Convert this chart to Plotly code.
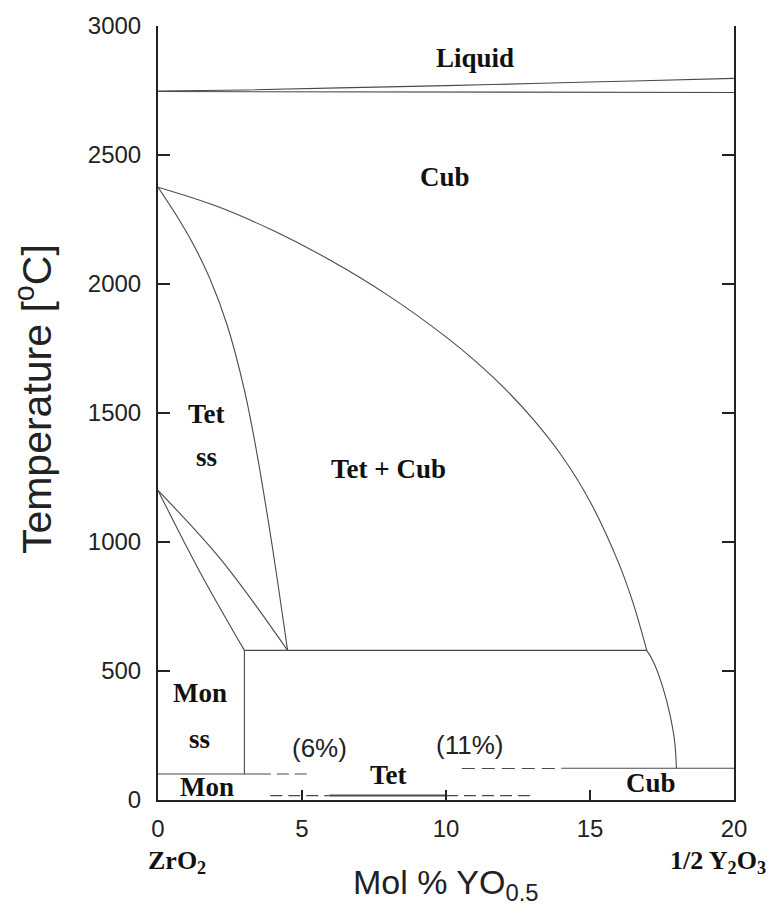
import plotly.graph_objects as go

# ---- data (Mol % YO0.5 , Temperature degC) ----
liq_upper_x = [0, 3, 6.3, 10, 13, 16.5, 20]
liq_upper_T = [2748, 2752, 2760, 2769, 2777, 2787, 2797]
liq_lower_x = [0, 20]
liq_lower_T = [2746, 2742]

cub_x = [0, 2, 4, 6, 8, 10, 11, 12, 13, 14, 15, 16, 16.5, 16.97]
cub_T = [2375, 2303, 2207, 2091, 1955, 1795, 1703, 1599, 1479, 1337, 1157, 917, 762, 580]

cub_low_x = [16.97, 17.2, 17.54, 17.78, 17.94, 18.0]
cub_low_T = [580, 536, 433, 329, 226, 123]

tet_x = [0, 0.6, 1.2, 1.8, 2.4, 3.0, 3.4, 3.8, 4.15, 4.5]
tet_T = [2375, 2273, 2159, 2021, 1841, 1589, 1365, 1101, 849, 580]

mt_upper_x = [0, 2.2, 4.5]
mt_upper_T = [1200, 930, 580]
mt_lower_x = [0, 1.45, 3.0]
mt_lower_T = [1200, 885, 580]

eutectoid_x = [3.0, 16.97]
eutectoid_T = [580, 580]
monss_x = [3.0, 3.0]
monss_T = [580, 101]

mon_solid_x = [0, 3.5]
mon_solid_T = [101, 101]
mon_dash_x = [3.5, 5.3]
mon_dash_T = [101, 101]

tc_dash_x = [10.55, 14.0]
tc_dash_T = [122, 122]
tc_solid_x = [14.0, 20]
tc_solid_T = [123, 123]

low_dash1_x = [3.9, 5.95]
low_dash1_T = [17, 17]
low_solid_x = [5.95, 10.0]
low_solid_T = [17, 17]
low_dash2_x = [10.0, 13.0]
low_dash2_T = [17, 17]

region_labels = ["Liquid", "Cub", "Tet", "ss", "Tet + Cub", "Mon", "ss", "Tet", "Mon", "Cub"]
region_x = [11.0, 9.97, 1.7, 1.7, 8.0, 1.45, 1.45, 8.02, 1.7, 17.12]
region_T = [2876, 2413, 1497, 1330, 1284, 413, 236, 97, 52, 66]

pct_labels = ["(6%)", "(11%)"]
pct_x = [5.6, 10.82]
pct_T = [200, 213]

x_ticks = [0, 5, 10, 15, 20]
y_ticks = [0, 500, 1000, 1500, 2000, 2500, 3000]

LINE = "#4a4a4a"
fig = go.Figure()


def add_line(xs, ys, dash="solid", width=1.1, shape="linear"):
    fig.add_trace(go.Scatter(x=xs, y=ys, mode="lines",
                             line=dict(color=LINE, width=width, dash=dash, shape=shape),
                             showlegend=False, hoverinfo="skip"))


add_line(liq_upper_x, liq_upper_T, shape="spline")
add_line(liq_lower_x, liq_lower_T)
add_line(cub_x, cub_T, shape="spline")
add_line(cub_low_x, cub_low_T, shape="spline")
add_line(tet_x, tet_T, shape="spline")
add_line(mt_upper_x, mt_upper_T, shape="spline")
add_line(mt_lower_x, mt_lower_T, shape="spline")
add_line(eutectoid_x, eutectoid_T)
add_line(monss_x, monss_T)
add_line(mon_solid_x, mon_solid_T)
add_line(mon_dash_x, mon_dash_T, dash="12px,6px")
add_line(tc_dash_x, tc_dash_T, dash="13px,7px")
add_line(tc_solid_x, tc_solid_T)
add_line(low_dash1_x, low_dash1_T, dash="12px,6px")
add_line(low_solid_x, low_solid_T, width=2)
add_line(low_dash2_x, low_dash2_T, dash="12px,6px")

serif = dict(family="Liberation Serif", size=27, color="#111111", weight="bold")
for t, xv, yv in zip(region_labels, region_x, region_T):
    fig.add_annotation(x=xv, y=yv, xref="x", yref="y", text=t, showarrow=False,
                       font=serif, xanchor="center", yanchor="middle")
for t, xv, yv in zip(pct_labels, pct_x, pct_T):
    fig.add_annotation(x=xv, y=yv, xref="x", yref="y", text=t, showarrow=False,
                       font=dict(family="Liberation Sans", size=26, color="#222222"),
                       xanchor="center", yanchor="middle")

# end-member labels below the axis
endfont = dict(family="Liberation Serif", size=26, color="#111111", weight="bold")
fig.add_annotation(x=0.66, y=-0.0805, xref="x", yref="paper", text="ZrO<sub>2</sub>",
                   showarrow=False, font=endfont, xanchor="center", yanchor="middle")
fig.add_annotation(x=19.44, y=-0.0805, xref="x", yref="paper",
                   text="1/2 Y<sub>2</sub>O<sub>3</sub>",
                   showarrow=False, font=endfont, xanchor="center", yanchor="middle")

# axis titles
fig.add_annotation(x=0.5, y=-0.1094, xref="paper", yref="paper",
                   text="Mol % YO<sub>0.5</sub>", showarrow=False,
                   font=dict(family="Liberation Sans", size=34, color="#222222"),
                   xanchor="center", yanchor="middle")
fig.add_annotation(x=-0.216, y=0.5174, xref="paper", yref="paper",
                   text="Temperature [<sup>o</sup>C]", showarrow=False, textangle=-90,
                   font=dict(family="Liberation Sans", size=41, color="#222222"),
                   xanchor="center", yanchor="middle")

tickfont = dict(family="Liberation Sans", size=24, color="#222222")
fig.update_layout(
    width=772, height=915, autosize=False,
    margin=dict(l=158, r=38, t=23, b=115),
    paper_bgcolor="white", plot_bgcolor="white",
    xaxis=dict(range=[0, 20], tickvals=x_ticks, ticks="inside", ticklen=10, tickwidth=1.5,
               tickcolor="#222222", showline=True, linecolor="#222222", linewidth=2,
               showgrid=False, zeroline=False, mirror=False, tickfont=tickfont,
               ticklabelstandoff=6),
    yaxis=dict(range=[0, 3000], tickvals=y_ticks, ticks="inside", ticklen=12, tickwidth=1.5,
               tickcolor="#222222", showline=True, linecolor="#222222", linewidth=2,
               showgrid=False, zeroline=False, mirror="ticks", tickfont=tickfont,
               ticklabelstandoff=10),
)

fig.write_html("out.html", config={"displayModeBar": False},
               post_script="document.body.style.margin='0px';")
